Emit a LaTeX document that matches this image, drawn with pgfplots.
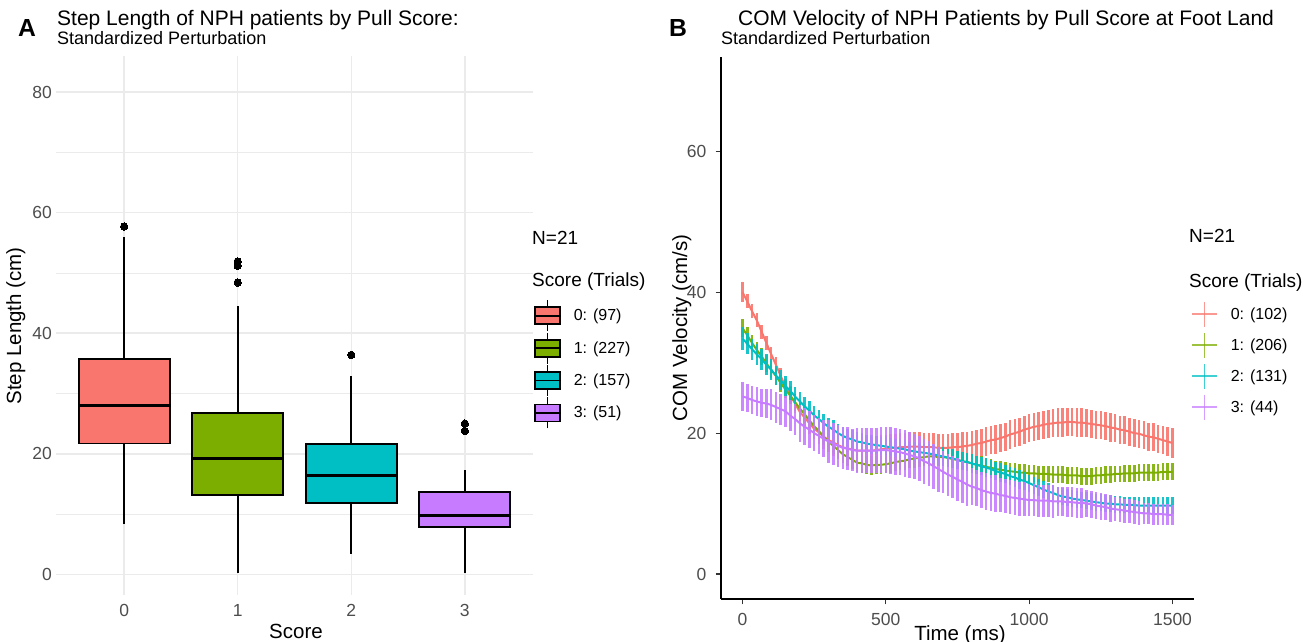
\documentclass[border=0pt]{standalone}
\usepackage{pgfplots}
\usepackage{pgfplotstable}
\pgfplotsset{compat=1.18}
\usepgfplotslibrary{statistics}
\usepackage{fontspec}
\setmainfont{Liberation Sans}
\definecolor{c0}{HTML}{F8766D}
\definecolor{c1}{HTML}{7CAE00}
\definecolor{c2}{HTML}{00BFC4}
\definecolor{c3}{HTML}{C77CFF}
\definecolor{tickgray}{HTML}{4D4D4D}
\definecolor{tickdark}{HTML}{333333}
\definecolor{gridc}{HTML}{EBEBEB}
\newcommand{\fs}[1]{\fontsize{#1bp}{1.2\dimexpr #1bp\relax}\selectfont}

\pgfplotstableread{
f m0 e0 m1 e1 m2 e2 m3 e3
0 40.0 1.4 34.9 1.3 33.4 1.6 25.2 2.0
1 38.7 1.0 33.9 1.2 32.7 1.5 25.0 2.0
2 37.3 1.0 32.8 1.2 31.9 1.5 24.7 2.0
3 36.0 1.0 31.8 1.2 31.2 1.5 24.5 2.0
4 34.4 1.0 30.9 1.2 30.5 1.5 24.3 2.0
5 32.8 1.0 29.9 1.2 29.7 1.5 24.2 2.0
6 31.2 1.0 29.0 1.2 29.0 1.5 24.0 2.2
7 29.7 1.1 28.1 1.2 28.2 1.4 23.7 2.2
8 28.1 1.1 27.1 1.2 27.5 1.4 23.4 2.2
9 26.6 1.1 26.2 1.2 26.7 1.4 23.1 2.2
10 25.4 1.3 25.3 1.2 26.0 1.4 22.5 2.2
11 24.2 1.3 24.4 1.2 25.2 1.4 22.0 2.2
12 23.0 1.3 23.5 1.2 24.5 1.4 21.4 2.6
13 22.2 1.5 22.7 1.2 23.8 1.3 20.9 2.6
14 21.4 1.5 21.8 1.2 23.2 1.3 20.5 2.6
15 20.6 1.5 21.0 1.2 22.5 1.3 20.0 2.6
16 20.1 1.7 20.3 1.2 22.0 1.3 19.6 2.6
17 19.5 1.7 19.5 1.2 21.4 1.3 19.2 2.6
18 19.0 1.7 18.8 1.2 20.9 1.3 18.8 3.0
19 18.7 1.9 18.2 1.2 20.5 1.3 18.5 3.0
20 18.3 1.9 17.6 1.3 20.0 1.3 18.2 3.0
21 18.0 1.9 17.0 1.3 19.6 1.3 17.9 3.0
22 17.8 2.0 16.6 1.3 19.3 1.3 17.8 3.0
23 17.7 2.0 16.2 1.3 19.1 1.3 17.6 3.0
24 17.5 2.0 15.8 1.3 18.8 1.3 17.5 3.2
25 17.5 2.0 15.7 1.3 18.7 1.3 17.5 3.2
26 17.5 2.0 15.5 1.3 18.5 1.3 17.5 3.2
27 17.5 2.0 15.4 1.3 18.4 1.3 17.5 3.2
28 17.6 2.0 15.5 1.3 18.3 1.3 17.5 3.2
29 17.7 2.0 15.5 1.3 18.2 1.3 17.6 3.2
30 17.8 2.0 15.6 1.3 18.1 1.3 17.6 3.3
31 17.9 2.0 15.7 1.3 18.0 1.3 17.5 3.3
32 17.9 2.0 15.9 1.3 17.9 1.3 17.4 3.3
33 18.0 2.0 16.0 1.3 17.8 1.3 17.3 3.3
34 18.0 2.0 16.1 1.3 17.7 1.3 17.1 3.3
35 18.1 2.0 16.3 1.3 17.5 1.3 16.9 3.3
36 18.1 2.0 16.4 1.3 17.4 1.3 16.7 3.2
37 18.1 2.0 16.5 1.3 17.3 1.3 16.4 3.2
38 18.0 2.0 16.6 1.3 17.2 1.3 16.0 3.2
39 18.0 2.0 16.7 1.3 17.1 1.3 15.7 3.2
40 18.0 2.0 16.7 1.3 17.0 1.3 15.3 3.2
41 17.9 2.0 16.6 1.3 16.8 1.3 14.9 3.2
42 17.9 2.0 16.6 1.3 16.7 1.3 14.5 3.0
43 17.9 2.0 16.5 1.3 16.5 1.3 14.1 3.0
44 18.0 2.0 16.3 1.3 16.4 1.3 13.8 3.0
45 18.0 2.0 16.2 1.3 16.2 1.3 13.4 3.0
46 18.1 2.0 16.0 1.3 16.0 1.3 13.1 3.0
47 18.2 2.0 15.9 1.3 15.9 1.3 12.7 3.0
48 18.3 2.0 15.7 1.3 15.7 1.3 12.4 2.6
49 18.5 2.0 15.5 1.3 15.5 1.3 12.2 2.6
50 18.6 2.0 15.4 1.3 15.3 1.3 11.9 2.6
51 18.8 2.0 15.2 1.2 15.1 1.3 11.7 2.6
52 19.0 2.0 15.1 1.2 14.9 1.3 11.5 2.6
53 19.1 2.0 14.9 1.2 14.6 1.3 11.4 2.6
54 19.3 2.0 14.8 1.2 14.4 1.3 11.2 2.4
55 19.5 2.0 14.7 1.2 14.2 1.3 11.1 2.4
56 19.8 2.0 14.6 1.2 13.9 1.3 10.9 2.4
57 20.0 2.0 14.5 1.2 13.7 1.3 10.8 2.4
58 20.2 2.0 14.4 1.2 13.4 1.3 10.7 2.4
59 20.5 2.0 14.4 1.2 13.2 1.3 10.6 2.4
60 20.7 2.0 14.3 1.2 12.9 1.2 10.5 2.3
61 20.9 2.0 14.3 1.2 12.6 1.2 10.5 2.3
62 21.0 2.0 14.2 1.2 12.3 1.2 10.4 2.3
63 21.2 2.0 14.2 1.2 12.0 1.2 10.4 2.3
64 21.3 2.0 14.2 1.2 11.7 1.2 10.4 2.3
65 21.4 2.0 14.1 1.2 11.5 1.2 10.3 2.3
66 21.5 2.0 14.1 1.2 11.2 1.2 10.3 2.1
67 21.5 2.0 14.1 1.2 11.0 1.2 10.3 2.1
68 21.6 2.0 14.0 1.2 10.9 1.2 10.2 2.1
69 21.6 2.0 14.0 1.2 10.7 1.2 10.2 2.1
70 21.5 2.0 14.0 1.2 10.6 1.2 10.1 2.1
71 21.5 2.0 13.9 1.2 10.5 1.2 10.1 2.1
72 21.4 2.0 13.9 1.2 10.4 1.2 10.0 1.9
73 21.3 2.0 13.9 1.2 10.3 1.2 9.9 1.9
74 21.2 2.0 14.0 1.2 10.2 1.2 9.7 1.9
75 21.1 2.0 14.0 1.2 10.1 1.2 9.6 1.9
76 21.0 2.0 14.1 1.2 10.0 1.2 9.5 1.9
77 20.8 2.0 14.1 1.2 10.0 1.2 9.3 1.9
78 20.7 2.0 14.2 1.2 9.9 1.2 9.2 1.7
79 20.5 2.0 14.2 1.2 9.9 1.2 9.1 1.7
80 20.4 2.0 14.3 1.2 9.8 1.2 9.0 1.7
81 20.2 2.0 14.3 1.2 9.8 1.2 8.9 1.7
82 20.0 2.0 14.3 1.2 9.8 1.2 8.8 1.7
83 19.9 2.0 14.4 1.2 9.7 1.2 8.7 1.7
84 19.7 2.0 14.4 1.2 9.7 1.2 8.6 1.5
85 19.5 2.0 14.4 1.2 9.7 1.2 8.6 1.5
86 19.4 2.0 14.4 1.2 9.7 1.2 8.5 1.5
87 19.2 2.0 14.4 1.2 9.7 1.2 8.5 1.5
88 19.0 2.0 14.5 1.2 9.7 1.2 8.5 1.5
89 18.8 2.0 14.5 1.2 9.7 1.2 8.4 1.5
90 18.6 2.1 14.5 1.2 9.7 1.2 8.4 1.4
}\velotab

\pgfplotsset{
  ggbox/.style={draw=black, fill=#1, line width=1.9bp, mark=*, mark size=3.7bp,
    mark options={fill=black, draw=black, line width=0pt}, forget plot,
    boxplot/every box/.style={draw=black, fill=#1, line width=1.9bp},
    boxplot/every whisker/.style={draw=black, line width=1.7bp},
    boxplot/every median/.style={draw=black, line width=3bp}},
  ggerr/.style={#1, line width=2bp, mark=none, forget plot,
    error bars/.cd, y dir=both, y explicit, error mark=none,
    error bar style={#1, line width=2.6bp, opacity=0.9}},
}

\begin{document}
\begin{tikzpicture}
\useasboundingbox (0bp,0bp) rectangle (1315bp,642bp);

% ---------------- Panel A ----------------
\begin{axis}[
  at={(56bp,47bp)}, anchor=south west, scale only axis,
  width=477bp, height=539bp,
  xmin=-0.6, xmax=3.6, ymin=-3.43, ymax=86.0,
  xtick={0,1,2,3}, ytick={0,20,40,60,80}, minor ytick={10,30,50,70},
  grid=both,
  major grid style={draw=gridc, line width=1.5bp},
  minor grid style={draw=gridc, line width=0.8bp},
  axis line style={draw=none},
  major tick length=0pt, minor tick length=0pt,
  /pgf/number format/assume math mode=true,
  tick label style={font=\fs{17.5}, text=tickgray, inner sep=0pt},
  yticklabel style={xshift=-4bp},
  xticklabel style={yshift=-9bp},
  boxplot/draw direction=y,
  legend cell align=left,
  legend style={at={(1.0021,0.5482)}, anchor=north west, draw=none, fill=none,
    inner sep=0pt, outer sep=0pt, row sep=0pt, column sep=13bp,
    font=\fs{16}, nodes={inner sep=0pt}},
]
\addplot[ggbox=c0, boxplot prepared={draw position=0, lower whisker=8.3, lower quartile=21.7,
    median=28.0, upper quartile=35.7, upper whisker=55.9, box extend=0.8, whisker extend=0}]
  table[row sep=\\, y index=0] {y\\ 57.7\\};
\addplot[ggbox=c1, boxplot prepared={draw position=1, lower whisker=0.3, lower quartile=13.2,
    median=19.2, upper quartile=26.7, upper whisker=44.5, box extend=0.8, whisker extend=0}]
  table[row sep=\\, y index=0] {y\\ 51.9\\ 51.2\\ 48.4\\};
\addplot[ggbox=c2, boxplot prepared={draw position=2, lower whisker=3.4, lower quartile=11.8,
    median=16.4, upper quartile=21.6, upper whisker=32.9, box extend=0.8, whisker extend=0}]
  table[row sep=\\, y index=0] {y\\ 36.4\\};
\addplot[ggbox=c3, boxplot prepared={draw position=3, lower whisker=0.3, lower quartile=7.9,
    median=9.7, upper quartile=13.7, upper whisker=17.3, box extend=0.8, whisker extend=0}]
  table[row sep=\\, y index=0] {y\\ 25.0\\ 23.8\\};

\addlegendimage{legend image code/.code={
  \path[draw=none,fill=none] (0bp,-15.5bp) rectangle (25bp,15.5bp);
  \draw[black,line width=1.4bp] (12.5bp,-15.5bp) -- (12.5bp,15.5bp);
  \draw[fill=c0,draw=black,line width=1.8bp] (0bp,-8.5bp) rectangle (25bp,8.5bp);
  \draw[black,line width=1.8bp] (0bp,0bp) -- (25bp,0bp);}}
\addlegendentry{0: (97)}
\addlegendimage{legend image code/.code={
  \path[draw=none,fill=none] (0bp,-15.5bp) rectangle (25bp,15.5bp);
  \draw[black,line width=1.4bp] (12.5bp,-15.5bp) -- (12.5bp,15.5bp);
  \draw[fill=c1,draw=black,line width=1.8bp] (0bp,-8.5bp) rectangle (25bp,8.5bp);
  \draw[black,line width=1.8bp] (0bp,0bp) -- (25bp,0bp);}}
\addlegendentry{1: (227)}
\addlegendimage{legend image code/.code={
  \path[draw=none,fill=none] (0bp,-15.5bp) rectangle (25bp,15.5bp);
  \draw[black,line width=1.4bp] (12.5bp,-15.5bp) -- (12.5bp,15.5bp);
  \draw[fill=c2,draw=black,line width=1.8bp] (0bp,-8.5bp) rectangle (25bp,8.5bp);
  \draw[black,line width=1.8bp] (0bp,0bp) -- (25bp,0bp);}}
\addlegendentry{2: (157)}
\addlegendimage{legend image code/.code={
  \path[draw=none,fill=none] (0bp,-15.5bp) rectangle (25bp,15.5bp);
  \draw[black,line width=1.4bp] (12.5bp,-15.5bp) -- (12.5bp,15.5bp);
  \draw[fill=c3,draw=black,line width=1.8bp] (0bp,-8.5bp) rectangle (25bp,8.5bp);
  \draw[black,line width=1.8bp] (0bp,0bp) -- (25bp,0bp);}}
\addlegendentry{3: (51)}
\end{axis}

% ---------------- Panel B ----------------
\begin{axis}[
  at={(721bp,43bp)}, anchor=south west, scale only axis,
  width=473bp, height=542bp,
  xmin=-75, xmax=1575, ymin=-3.55, ymax=73.4,
  axis x line*=bottom, axis y line*=left,
  axis line style={-, line width=1.5bp, draw=black},
  xtick={0,500,1000,1500}, ytick={0,20,40,60},
  tick align=outside, major tick length=5.5bp,
  tick style={line width=1.1bp, draw=tickdark},
  /pgf/number format/assume math mode=true,
  /pgf/number format/1000 sep={},
  scaled ticks=false,
  tick label style={font=\fs{17.5}, text=tickgray, inner sep=0pt},
  yticklabel style={xshift=-9bp},
  xticklabel style={yshift=-9bp},
  legend cell align=left,
  legend style={at={(0.9937,0.5544)}, anchor=north west, draw=none, fill=none,
    inner sep=0pt, outer sep=0pt, row sep=0pt, column sep=13bp,
    font=\fs{16}, nodes={inner sep=0pt}},
]
\addplot[ggerr=c0] table[x expr=\thisrow{f}*16.6667, y=m0, y error=e0] {\velotab};
\addplot[ggerr=c1] table[x expr=\thisrow{f}*16.6667, y=m1, y error=e1] {\velotab};
\addplot[ggerr=c2] table[x expr=\thisrow{f}*16.6667, y=m2, y error=e2] {\velotab};
\addplot[ggerr=c3] table[x expr=\thisrow{f}*16.6667, y=m3, y error=e3] {\velotab};

\addlegendimage{legend image code/.code={
  \path[draw=none,fill=none] (0bp,-15.5bp) rectangle (25bp,15.5bp);
  \draw[c0,opacity=0.75,line width=1.8bp] (0bp,0bp) -- (25bp,0bp);
  \draw[c0,opacity=0.75,line width=1.8bp] (12.5bp,-12.5bp) -- (12.5bp,12.5bp);}}
\addlegendentry{0: (102)}
\addlegendimage{legend image code/.code={
  \path[draw=none,fill=none] (0bp,-15.5bp) rectangle (25bp,15.5bp);
  \draw[c1,opacity=0.75,line width=1.8bp] (0bp,0bp) -- (25bp,0bp);
  \draw[c1,opacity=0.75,line width=1.8bp] (12.5bp,-12.5bp) -- (12.5bp,12.5bp);}}
\addlegendentry{1: (206)}
\addlegendimage{legend image code/.code={
  \path[draw=none,fill=none] (0bp,-15.5bp) rectangle (25bp,15.5bp);
  \draw[c2,opacity=0.75,line width=1.8bp] (0bp,0bp) -- (25bp,0bp);
  \draw[c2,opacity=0.75,line width=1.8bp] (12.5bp,-12.5bp) -- (12.5bp,12.5bp);}}
\addlegendentry{2: (131)}
\addlegendimage{legend image code/.code={
  \path[draw=none,fill=none] (0bp,-15.5bp) rectangle (25bp,15.5bp);
  \draw[c3,opacity=0.75,line width=1.8bp] (0bp,0bp) -- (25bp,0bp);
  \draw[c3,opacity=0.75,line width=1.8bp] (12.5bp,-12.5bp) -- (12.5bp,12.5bp);}}
\addlegendentry{3: (44)}
\end{axis}

% ---------------- Texts ----------------
\node[anchor=base west, inner sep=0pt, font=\bfseries\fs{24.7}] at (18bp,605.3bp) {A};
\node[anchor=base west, inner sep=0pt, font=\fs{21}] at (57bp,616.3bp) {Step Length of NPH patients by Pull Score:};
\node[anchor=base west, inner sep=0pt, font=\fs{18}] at (57bp,597bp) {Standardized Perturbation};
\node[anchor=base, inner sep=0pt, rotate=90, font=\fs{20.5}] at (21bp,316bp) {Step Length (cm)};
\node[anchor=base, inner sep=0pt, font=\fs{20.5}] at (296bp,3.7bp) {Score};
\node[anchor=base west, inner sep=0pt, font=\fs{19}] at (532bp,397bp) {N=21};
\node[anchor=base west, inner sep=0pt, font=\fs{19}] at (532bp,355.5bp) {Score (Trials)};

\node[anchor=base west, inner sep=0pt, font=\bfseries\fs{24.7}] at (669bp,605.3bp) {B};
\node[anchor=base west, inner sep=0pt, font=\fs{21}] at (738bp,616.3bp) {COM Velocity of NPH Patients by Pull Score at Foot Land};
\node[anchor=base west, inner sep=0pt, font=\fs{18}] at (721bp,597bp) {Standardized Perturbation};
\node[anchor=base, inner sep=0pt, rotate=90, font=\fs{20.5}] at (687bp,314bp) {COM Velocity (cm/s)};
\node[anchor=base, inner sep=0pt, font=\fs{20.5}] at (960bp,2bp) {Time (ms)};
\node[anchor=base west, inner sep=0pt, font=\fs{19}] at (1189bp,399bp) {N=21};
\node[anchor=base west, inner sep=0pt, font=\fs{19}] at (1189bp,354.3bp) {Score (Trials)};
\end{tikzpicture}
\end{document}
